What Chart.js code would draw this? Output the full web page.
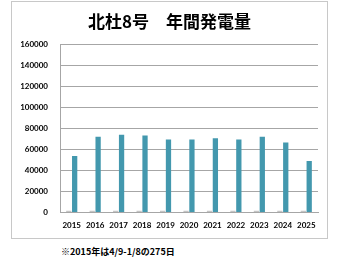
<!DOCTYPE html>
<html>
<head>
<meta charset="utf-8">
<script src="https://cdn.jsdelivr.net/npm/chart.js@4"></script>
<style>
  html, body { margin: 0; padding: 0; background: #fff; }
  body { width: 340px; height: 257px; position: relative; overflow: hidden; }
  .box {
    position: absolute; left: 11px; top: 1px; width: 315px; height: 236px;
    border: 1px solid #c8c8c8;
  }
  .box canvas { display: block; }
  .note {
    position: absolute; left: 61px; top: 245px;
    font: bold 9px "Noto Sans CJK JP", sans-serif; color: #000;
  }
</style>
</head>
<body>
<div class="box"><canvas id="myChart" width="315" height="236"></canvas></div>
<div class="note">※2015年は4/9-1/8の275日</div>
<script>
const years = ["2015","2016","2017","2018","2019","2020","2021","2022","2023","2024","2025"]
const smallValues = [1500,1500,1500,1500,1500,1500,1500,1500,1500,1500,1500]
const yearValues = [53600,72000,74000,73300,69500,69500,70700,69500,72000,66600,49000]
const yTicks = [0,20000,40000,60000,80000,100000,120000,140000,160000]

const chartData = {
  labels: years,
  datasets: [
    {
      data: smallValues,
      backgroundColor: "#c4c4c4",
      categoryPercentage: 0.5,
      barPercentage: 0.9,
    },
    {
      data: yearValues,
      backgroundColor: "#4398ae",
      categoryPercentage: 0.5,
      barPercentage: 0.9,
    },
  ],
};

const config = {
  type: 'bar',
  data: chartData,
  options: {
    responsive: false,
    animation: false,
    layout: { padding: { left: 9, right: 9, top: 9, bottom: 0 } },
    plugins: {
      legend: { display: false },
      tooltip: { enabled: false },
      title: {
        display: true,
        text: "北杜8号　年間発電量",
        color: "#000",
        font: { family: "Noto Sans CJK JP", size: 17, weight: "bold" },
        padding: { top: 0, bottom: 13 },
      },
    },
    scales: {
      x: {
        grid: { display: false, drawTicks: false },
        border: { color: "#a6a6a6" },
        ticks: {
          color: "#000",
          padding: 8,
          maxRotation: 0,
          autoSkip: false,
          font: { family: "Lato", size: 8, weight: "bold" },
        },
      },
      y: {
        min: 0,
        max: 160000,
        afterBuildTicks: (axis) => { axis.ticks = yTicks.map(v => ({ value: v })) },
        afterFit: (axis) => { axis.width = 39 },
        grid: { color: "#a6a6a6", drawTicks: false },
        border: { color: "#a6a6a6" },
        ticks: {
          color: "#000",
          padding: 12,
          callback: (v) => String(v),
          font: { family: "Lato", size: 8, weight: "bold" },
        },
      },
    },
  },
};

const salesChart = new Chart(document.getElementById('myChart'), config);
</script>
</body>
</html>
